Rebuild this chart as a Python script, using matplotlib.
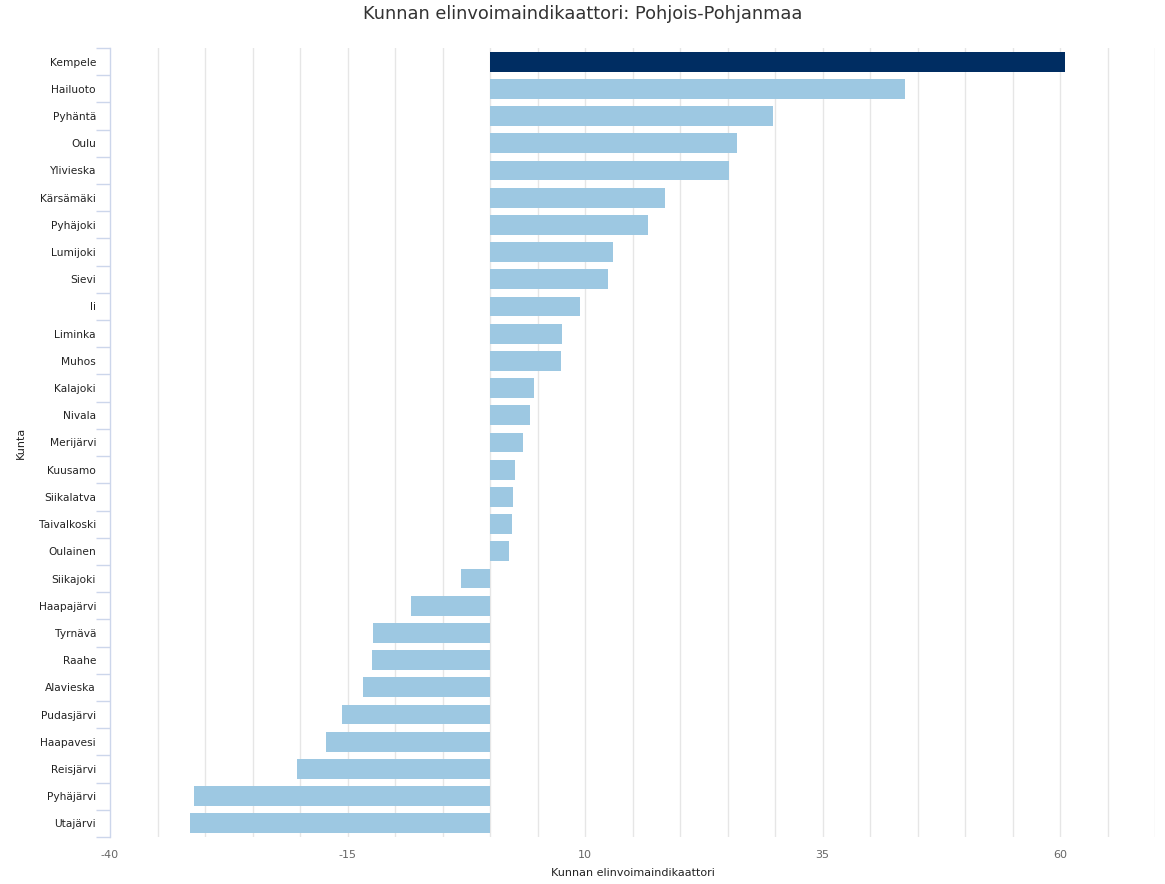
import matplotlib
matplotlib.use("Agg")
import matplotlib.pyplot as plt
import numpy as np

municipalities = ["Kempele", "Hailuoto", "Pyhäntä", "Oulu", "Ylivieska", "Kärsämäki",
                  "Pyhäjoki", "Lumijoki", "Sievi", "Ii", "Liminka", "Muhos", "Kalajoki",
                  "Nivala", "Merijärvi", "Kuusamo", "Siikalatva", "Taivalkoski", "Oulainen",
                  "Siikajoki", "Haapajärvi", "Tyrnävä", "Raahe", "Alavieska", "Pudasjärvi",
                  "Haapavesi", "Reisjärvi", "Pyhäjärvi", "Utajärvi"]
values = [60.5, 43.7, 29.8, 26.0, 25.2, 18.4, 16.6, 12.9, 12.4, 9.5, 7.6, 7.5, 4.6,
          4.2, 3.5, 2.6, 2.4, 2.3, 2.0, -3.1, -8.3, -12.3, -12.4, -13.4, -15.6,
          -17.3, -20.3, -31.2, -31.6]
highlight = "Kempele"
x_ticks = [-40, -15, 10, 35, 60]

fig = plt.figure(figsize=(11.65, 8.84), dpi=100)
ax = fig.add_axes([110/1165, 1 - 837/884, (1155-110)/1165, (837-48)/884])

n = len(municipalities)
ypos = np.arange(n)
colors = ["#002D62" if m == highlight else "#9DC8E2" for m in municipalities]
ax.barh(ypos, values, height=0.73, color=colors, zorder=3)

ax.set_xlim(-40, 70)
ax.set_ylim(n - 0.5, -0.5)

# gridlines every 5
for g in np.arange(-35, 71, 5):
    ax.axvline(g, color="#e6e6e6", lw=1, zorder=1)

ax.set_xticks(x_ticks)
ax.set_xticklabels([str(t) for t in x_ticks])
ax.tick_params(axis="x", length=0, labelsize=8, colors="#666666", pad=9)

ax.set_yticks(ypos)
ax.set_yticklabels(municipalities)
ax.tick_params(axis="y", which="major", length=0, labelsize=7.7, labelcolor="#222222", pad=10)
ax.set_yticks(np.arange(-0.5, n, 1), minor=True)
ax.tick_params(axis="y", which="minor", length=10, color="#ccd6eb", width=1)

for s in ["top", "right", "bottom"]:
    ax.spines[s].set_visible(False)
ax.spines["left"].set_color("#ccd6eb")
ax.spines["left"].set_linewidth(1)

ax.set_xlabel("Kunnan elinvoimaindikaattori", fontsize=8, color="#222222", labelpad=6)
ax.set_ylabel("Kunta", fontsize=8, color="#222222", labelpad=9)

fig.text(583/1165, 1 - 14/884, "Kunnan elinvoimaindikaattori: Pohjois-Pohjanmaa",
         ha="center", va="center", fontsize=12.8, color="#333333")

fig.savefig("out.png", dpi=100)
